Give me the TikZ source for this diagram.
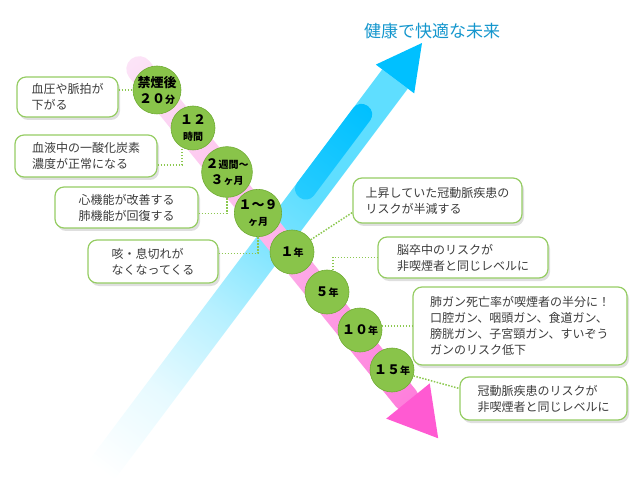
\documentclass[tikz,border=0pt]{standalone}
\usepackage{fontspec}
\setmainfont{Noto Sans CJK JP}
\usetikzlibrary{shadows}
\definecolor{circgreen}{RGB}{137,196,74}
\definecolor{circedge}{RGB}{112,172,52}
\definecolor{boxgreen}{RGB}{150,205,100}
\definecolor{dotgreen}{RGB}{140,200,80}
\definecolor{skyblue}{RGB}{0,192,255}
\definecolor{paleblue}{RGB}{95,222,255}
\definecolor{hotpink}{RGB}{255,90,210}
\definecolor{palepink}{RGB}{252,228,247}
\definecolor{titleblue}{RGB}{20,150,205}
\definecolor{boxtext}{RGB}{60,60,60}
\pgfdeclarehorizontalshading{bluefade}{100bp}{color(0bp)=(white); color(25bp)=(white); color(35bp)=(paleblue!15!white); color(45bp)=(paleblue!45!white); color(55bp)=(paleblue!85!white); color(60bp)=(paleblue); color(100bp)=(paleblue)}
\pgfdeclarehorizontalshading{corefade}{100bp}{color(0bp)=(skyblue!60!paleblue); color(25bp)=(skyblue!60!paleblue); color(50bp)=(skyblue!80!paleblue); color(75bp)=(skyblue); color(100bp)=(skyblue)}
\pgfdeclarehorizontalshading{pinkfade}{100bp}{color(0bp)=(palepink); color(25bp)=(palepink); color(50bp)=(hotpink!35!palepink); color(75bp)=(hotpink!75!palepink); color(100bp)=(hotpink!75!palepink)}
\newcommand{\tunit}[1]{{\fontsize{10pt}{16pt}\selectfont #1}}
\begin{document}
\begin{tikzpicture}[x=1pt,y=-1pt,
  year/.style={circle, minimum size=44pt, inner sep=0pt, fill=circgreen, draw=circedge, line width=0.6pt, align=center, font=\bfseries\fontsize{13pt}{16pt}\selectfont},
  effect/.style={draw=boxgreen, line width=1.2pt, fill=white, rounded corners=9pt, align=left, inner sep=0pt, text=boxtext, font=\fontsize{12pt}{16pt}\selectfont, drop shadow={shadow xshift=2pt, shadow yshift=-3pt, opacity=0.25}},
  link/.style={dotgreen, line width=1.5pt, dash pattern=on 1.5pt off 1.5pt}]
\useasboundingbox (0,0) rectangle (642,478);

% blue arrow
\begin{scope}[transform canvas={shift={(395,79)}, rotate=53.13}]
\shade[shading=bluefade] (-490,-16) rectangle (0,16);
\shade[shading=corefade, rounded corners=10pt] (-152,-16) rectangle (-38,5);
\fill[skyblue] (0,-24) -- (45,0) -- (0,24) -- cycle;
\end{scope}

% pink arrow
\begin{scope}[transform canvas={shift={(408,401)}, rotate=-51}]
\shade[shading=pinkfade, rounded corners=13pt] (-440,-13) rectangle (10,13);
\fill[hotpink] (0,-28) -- (48,0) -- (0,28) -- cycle;
\end{scope}

\node[text=titleblue, font=\fontsize{17pt}{20pt}\selectfont] (title) at (432,31) {健康で快適な未来};

\node[effect, minimum width=101pt, minimum height=40pt] (b1) at (67.5,97) {血圧や脈拍が\\下がる};
\node[effect, minimum width=142pt, minimum height=42pt] (b2) at (86,156) {血液中の一酸化炭素\\濃度が正常になる};
\node[effect, minimum width=143pt, minimum height=41pt] (b3) at (126.5,207.5) {心機能が改善する\\肺機能が回復する};
\node[effect, minimum width=130pt, minimum height=43pt] (b4) at (153,261.5) {咳・息切れが\\なくなってくる};
\node[effect, minimum width=169pt, minimum height=45pt] (b5) at (437.5,200.5) {上昇していた冠動脈疾患の\\リスクが半減する};
\node[effect, minimum width=170pt, minimum height=41pt] (b6) at (463,257.5) {脳卒中のリスクが\\非喫煙者と同じレベルに};
\node[effect, minimum width=214pt, minimum height=78pt] (b7) at (520,326) {肺ガン死亡率が喫煙者の半分に！\\口腔ガン、咽頭ガン、食道ガン、\\膀胱ガン、子宮頸ガン、すいぞう\\ガンのリスク低下};
\node[effect, minimum width=167pt, minimum height=43pt] (b8) at (543.5,398.5) {冠動脈疾患のリスクが\\非喫煙者と同じレベルに};

\node[year] (t1) at (157,90) {禁煙後\\２０\tunit{分}};
\node[year] (t2) at (193,128) {１２\\\tunit{時間}};
\node[year] (t3) at (227,172) {２\tunit{週間～}\\３\tunit{ヶ月}};
\node[year] (t4) at (258,213) {１～９\\\tunit{ヶ月}};
\node[year] (t5) at (292,252) {１\tunit{年}};
\node[year] (t6) at (327,292) {５\tunit{年}};
\node[year] (t7) at (360,330) {１０\tunit{年}};
\node[year] (t8) at (392,370) {１５\tunit{年}};

\draw[link] (b1.east |- t1) -- (t1);
\draw[link] ([yshift=-9pt]b2.east) -| (t2.240);
\draw[link] ([yshift=-6pt]b3.east) -| (t3.south);
\draw[link] ([yshift=8pt]b4.east) -| (t4.south);
\draw[link] (t5) -- ([yshift=-12pt]b5.west);
\draw[link] (t6.75) |- (b6);
\draw[link] (t7.10) -- (t7.10 -| b7.west);
\draw[link] (t8) -- ([yshift=10pt]b8.west);
\end{tikzpicture}
\end{document}
